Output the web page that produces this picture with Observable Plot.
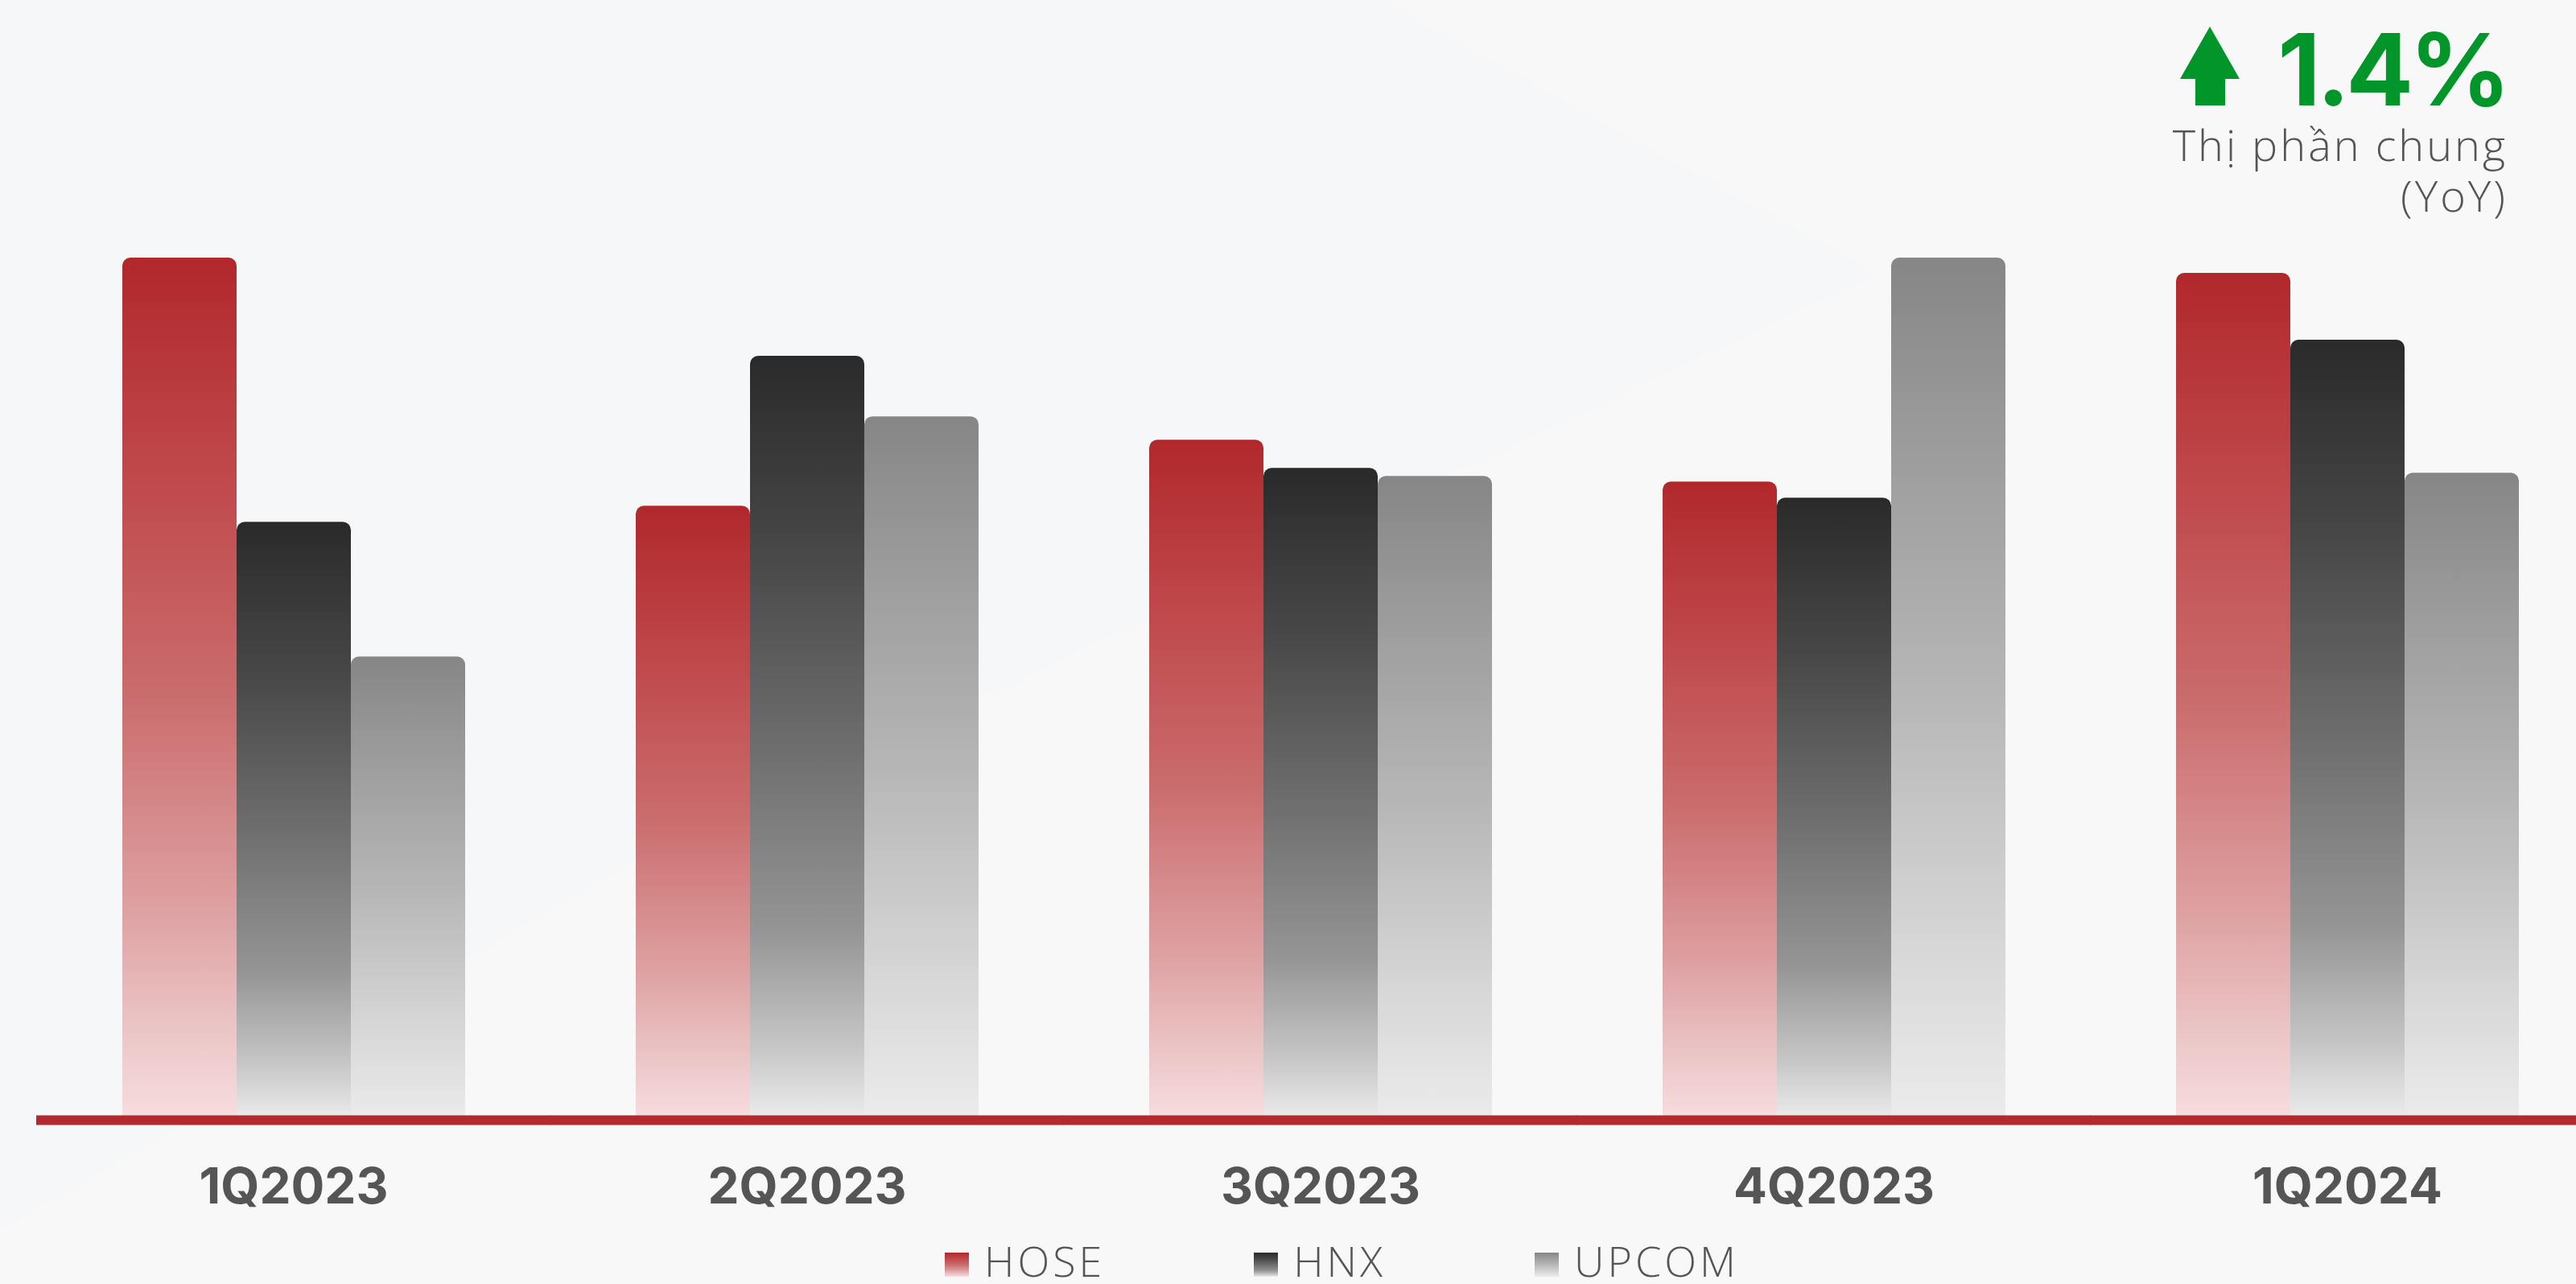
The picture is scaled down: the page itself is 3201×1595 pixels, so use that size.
<!DOCTYPE html>
<html>
<head>
<meta charset="utf-8">
<script src="https://cdn.jsdelivr.net/npm/d3@7"></script>
<script src="https://cdn.jsdelivr.net/npm/@observablehq/plot@0.6"></script>
<style>
  html, body { margin: 0; padding: 0; background: #f8f8f8; }
  #root { position: relative; width: 3201px; height: 1595px; overflow: hidden; background: #f8f8f8; }
  #bgshape { position: absolute; left: 0; top: 0; width: 3201px; height: 1595px; background: #f6f7f8;
             clip-path: polygon(0 1527px, 780px 1073px, 2330px 340px, 1714px 0, 0 0); }
  #chart { position: absolute; left: 0; top: 0; }
  #arrow { position: absolute; left: 2709px; top: 33px; }
  #kpi { position: absolute; right: 86px; top: 24px; font: 700 124px Inter, sans-serif; line-height: 124px;
         color: #02962a; letter-spacing: -5px; white-space: nowrap; }
  #kpisub { position: absolute; right: 85px; top: 148px; font: 300 54px "Open Sans", sans-serif; line-height: 63px;
            color: #555; text-align: right; white-space: nowrap; letter-spacing: 3px; }
  #legend { position: absolute; left: 1174px; top: 1546px; display: flex; align-items: baseline; gap: 185px;
            font: 300 52px "Open Sans", sans-serif; line-height: 40px; color: #555; letter-spacing: 4px; }
  .item { display: flex; align-items: baseline; }
  .sw { width: 30px; height: 30px; margin-right: 19px; }
</style>
</head>
<body>
<div id="root">
  <div id="bgshape"></div>
  <svg width="0" height="0" style="position:absolute"><defs id="defs"></defs></svg>
  <div id="chart"></div>
  <svg id="arrow" width="74" height="98"><polygon points="37,0 74,65 56,65 56,98 19,98 19,65 0,65" fill="#02962a"/></svg>
  <div id="kpi"></div>
  <div id="kpisub"></div>
  <div id="legend"></div>
</div>
<script>
// ---- data ----
const quarters = ["1Q2023", "2Q2023", "3Q2023", "4Q2023", "1Q2024"];
const series = ["HOSE", "HNX", "UPCOM"];
const hose  = [10.64, 7.56, 8.38, 7.86, 10.45];
const hnx   = [7.36, 9.42, 8.03, 7.66, 9.62];
const upcom = [5.69, 8.67, 7.93, 10.64, 7.97];
const kpiValue = "1.4%";
const kpiLabel = ["Thị phần chung", "(YoY)"];

// ---- style (gradient stops per series) ----
const gradientStops = {
  HOSE:  [[0, "#b1282b"], [0.25, "#bf484b"], [0.5, "#ca6b6c"], [0.75, "#dea0a1"], [0.9, "#ecc7c8"], [1, "#f7dfe0"]],
  HNX:   [[0, "#2a2a2a"], [0.25, "#474747"], [0.5, "#6c6c6c"], [0.75, "#959595"], [0.9, "#c6c6c6"], [1, "#eeeeee"]],
  UPCOM: [[0, "#868686"], [0.25, "#9f9f9f"], [0.5, "#b6b6b6"], [0.75, "#d2d2d2"], [1, "#ececec"]]
};

// gradients
const defs = d3.select("#defs");
for (const s of series) {
  const g = defs.append("linearGradient").attr("id", "grad-" + s)
    .attr("x1", 0).attr("y1", 0).attr("x2", 0).attr("y2", 1);
  for (const [o, c] of gradientStops[s]) g.append("stop").attr("offset", o).attr("stop-color", c);
}

const values = {HOSE: hose, HNX: hnx, UPCOM: upcom};
const table = series.flatMap(s => quarters.map((q, j) => ({quarter: q, series: s, value: values[s][j]})));

const chart = Plot.plot({
  width: 3201,
  height: 1530,
  marginTop: 320,
  marginBottom: 145,
  marginLeft: 149,
  marginRight: 69,
  style: {background: "transparent", fontFamily: "Inter, sans-serif", fontSize: "62px", fontWeight: 700, color: "#555555"},
  fx: {domain: quarters, paddingInner: 0.33, paddingOuter: 0, label: null, axis: "bottom", tickSize: 0, tickPadding: 65},
  x: {domain: series, padding: 0, axis: null},
  y: {domain: [0, 10.64], axis: null},
  color: {domain: series, range: series.map(s => `url(#grad-${s})`)},
  marks: [
    Plot.barY(table, {fx: "quarter", x: "series", y: "value", fill: "series", rx: 10,
                      insetBottom: -10, insetLeft: 0, insetRight: 0}),
    Plot.ruleY([0], {stroke: "#b22a2d", strokeWidth: 12, dy: 6, insetLeft: -106, insetRight: -106})
  ]
});
document.getElementById("chart").appendChild(chart);

// KPI annotation
document.getElementById("kpi").textContent = kpiValue;
document.getElementById("kpisub").innerHTML = kpiLabel.join("<br>");

// legend
const legend = d3.select("#legend");
for (const s of series) {
  const it = legend.append("div").attr("class", "item");
  it.append("div").attr("class", "sw")
    .style("background", "linear-gradient(to bottom, " + gradientStops[s].map(([o, c]) => `${c} ${o * 100}%`).join(", ") + ")");
  it.append("span").text(s);
}
</script>
</body>
</html>
